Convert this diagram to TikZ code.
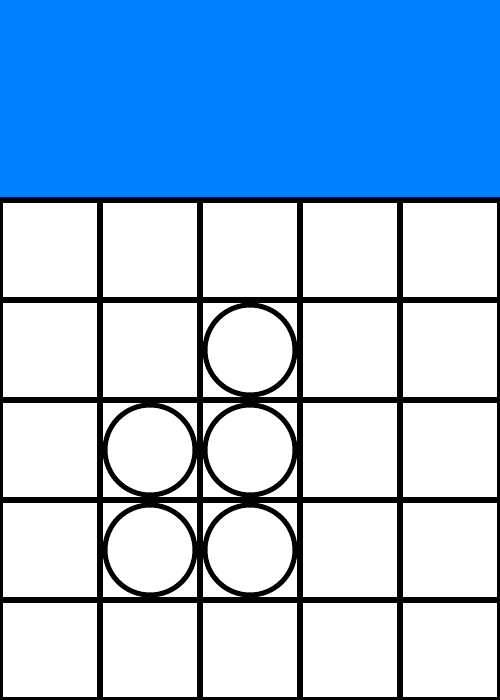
\documentclass[tikz,border=0pt]{standalone}
\usepackage{tikz}
\usetikzlibrary{positioning}
\definecolor{bandcolor}{HTML}{0080FF}

\begin{document}
\begin{tikzpicture}[
  cell/.style={draw, line width=0.065cm, minimum size=1cm,
               inner sep=0pt, outer sep=0pt},
  banner/.style={fill=bandcolor, minimum width=5cm, minimum height=2cm,
                 inner sep=0pt, outer sep=0pt},
  piece/.style={draw, circle, fill=white, line width=0.05cm,
                minimum size=0.9cm, inner sep=0pt},
]
\useasboundingbox (0,0) rectangle (5,7);
\clip (0,0) rectangle (5,7);

%% Top band
\node[banner, anchor=north west] (band) at (0,7) {};

%% Board
\foreach \r in {1,...,5}
  \foreach \c in {1,...,5}
    \node[cell] (cell-\r-\c) at (\c-0.5, 5.5-\r) {};

%% Pieces
\foreach \r/\c in {2/3, 3/2, 3/3, 4/2, 4/3}
  \node[piece] (piece-\r-\c) at (cell-\r-\c) {};

\end{tikzpicture}
\end{document}
